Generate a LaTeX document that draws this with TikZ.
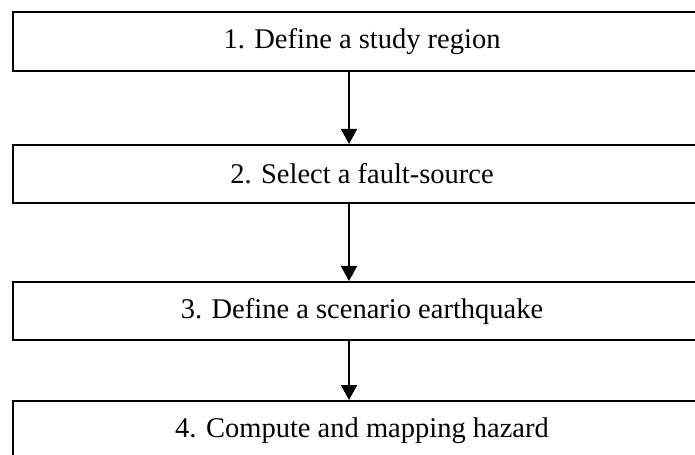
\documentclass[tikz,border=0pt]{standalone}
\usepackage{fontspec}
\setmainfont{Liberation Serif}
\usetikzlibrary{arrows.meta}
\tikzset{
  stepbox/.style={draw=black, line width=2bp, minimum width=698bp, anchor=north west,
    inner sep=0pt, font=\fontsize{28.5bp}{34bp}\selectfont},
  flowarrow/.style={line width=1.7bp, -{Triangle[length=15bp,width=16bp]}}
}
\begin{document}
\begin{tikzpicture}[x=1bp,y=-1bp]
\useasboundingbox (0,0) rectangle (695,455);
\clip (0,0) rectangle (695,455);
\node[stepbox, minimum height=59bp] (b1) at (12,11) {1. Define a study region};
\node[stepbox, minimum height=58bp] (b2) at (12,144) {2. Select a fault-source};
\node[stepbox, minimum height=58bp] (b3) at (12,281) {3. Define a scenario earthquake};
\node[stepbox, minimum height=59bp] (b4) at (12,400) {4. Compute and mapping hazard};
\coordinate (ax) at (349,0);
\draw[flowarrow] (b1.south -| ax) -- (b2.north -| ax);
\draw[flowarrow] (b2.south -| ax) -- (b3.north -| ax);
\draw[flowarrow] (b3.south -| ax) -- (b4.north -| ax);
\end{tikzpicture}
\end{document}
